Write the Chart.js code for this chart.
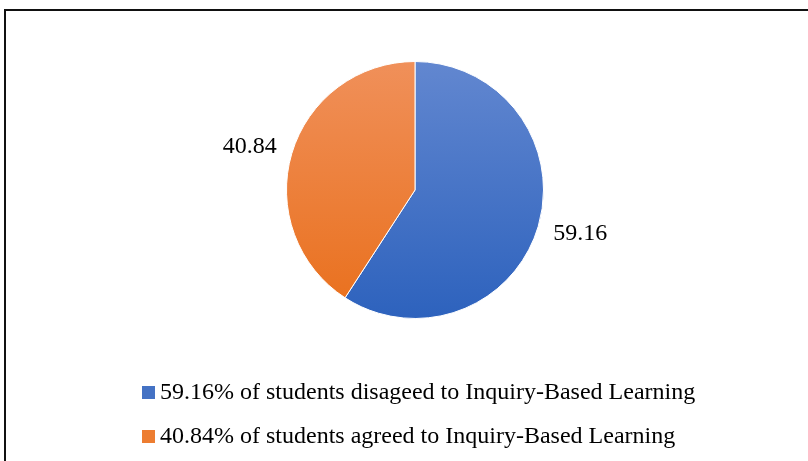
<!DOCTYPE html>
<html lang="en">
<head>
  <meta charset="UTF-8" />
  <title>Inquiry-Based Learning</title>
  <style>
    html, body {
      margin: 0;
      padding: 0;
      background: #fff;
      width: 808px;
      height: 461px;
      overflow: hidden;
    }
    .frame {
      position: absolute;
      left: 4px;
      top: 9px;
      width: 900px;
      height: 600px;
      border-left: 2px solid #111;
      border-top: 2px solid #111;
    }
    .chart-wrap {
      position: absolute;
      left: 0;
      top: 0;
      width: 808px;
      height: 461px;
    }
    .legend {
      position: absolute;
      left: 142px;
      top: 369px;
      font-family: "Liberation Serif", "Times New Roman", serif;
      font-size: 24px;
      color: #000;
    }
    .legend-item {
      height: 44px;
      line-height: 44px;
      white-space: nowrap;
    }
    .legend-box {
      display: inline-block;
      width: 13px;
      height: 13px;
      margin-right: 5px;
      vertical-align: 0px;
    }
  </style>
</head>
<body>
  <div class="frame"></div>
  <div class="chart-wrap">
    <canvas id="pieChart" width="808" height="461"></canvas>
  </div>
  <div class="legend" id="legend"></div>

  <script src="https://cdn.jsdelivr.net/npm/chart.js@4.4.1/dist/chart.umd.min.js"></script>
  <script>
    const categories = [
      '59.16% of students disageed to Inquiry-Based Learning',
      '40.84% of students agreed to Inquiry-Based Learning'
    ];
    const values = [59.16, 40.84];
    const valueLabels = ['59.16', '40.84'];

    const legendColors = ['#4472c4', '#ed7d31'];
    const gradStops = [
      ['#6287d0', '#2d62bd'],
      ['#f0905a', '#e96f1b']
    ];

    // vertical gradient across the pie
    function sliceFill(ctx) {
      const chart = ctx.chart;
      const area = chart.chartArea;
      if (!area) return legendColors[ctx.dataIndex];
      const g = chart.ctx.createLinearGradient(0, area.top, 0, area.bottom);
      g.addColorStop(0, gradStops[ctx.dataIndex][0]);
      g.addColorStop(1, gradStops[ctx.dataIndex][1]);
      return g;
    }

    // value labels outside the slices
    const outsideLabels = {
      id: 'outsideLabels',
      afterDatasetsDraw(chart) {
        const ctx = chart.ctx;
        const meta = chart.getDatasetMeta(0);
        ctx.save();
        ctx.font = '24px "Liberation Serif", "Times New Roman", serif';
        ctx.fillStyle = '#000';
        ctx.textAlign = 'center';
        ctx.textBaseline = 'middle';
        meta.data.forEach((arc, i) => {
          const mid = (arc.startAngle + arc.endAngle) / 2 - 0.032;
          const r = arc.outerRadius * 1.33;
          ctx.fillText(valueLabels[i], arc.x + Math.cos(mid) * r, arc.y + Math.sin(mid) * r);
        });
        ctx.restore();
      }
    };

    const pieCtx = document.getElementById('pieChart').getContext('2d');
    const pieChart = new Chart(pieCtx, {
      type: 'pie',
      data: {
        labels: categories,
        datasets: [{
          data: values,
          backgroundColor: sliceFill,
          borderColor: '#ffffff',
          borderWidth: 1
        }]
      },
      options: {
        responsive: false,
        animation: false,
        layout: {
          padding: { left: 286, right: 264, top: 61, bottom: 142 }
        },
        plugins: {
          legend: { display: false },
          tooltip: { enabled: false }
        }
      },
      plugins: [outsideLabels]
    });

    // legend built from the same arrays
    const legendEl = document.getElementById('legend');
    categories.forEach((label, i) => {
      const item = document.createElement('div');
      item.className = 'legend-item';
      const box = document.createElement('span');
      box.className = 'legend-box';
      box.style.background = legendColors[i];
      item.appendChild(box);
      item.appendChild(document.createTextNode(label));
      legendEl.appendChild(item);
    });
  </script>
</body>
</html>
